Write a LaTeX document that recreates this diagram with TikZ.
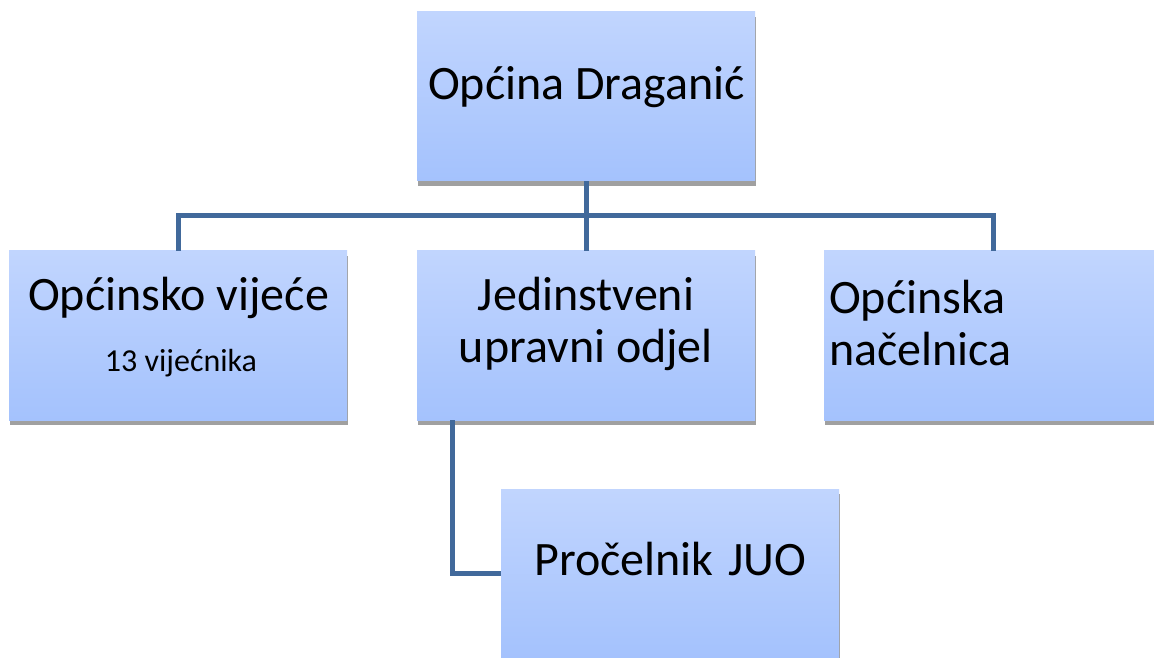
\documentclass[tikz,border=0pt]{standalone}
\usepackage{fontspec}
\setmainfont{Carlito}
\usetikzlibrary{shadows}
\definecolor{boxtop}{HTML}{C1D5FE}
\definecolor{boxbot}{HTML}{A4C2FD}
\definecolor{linecol}{HTML}{41699B}
\definecolor{shadowgray}{HTML}{A0A0A0}
\tikzset{
  orgbox/.style={rectangle, minimum width=338pt, minimum height=169pt, inner sep=0pt,
    top color=boxtop, bottom color=boxbot, draw=none,
    general shadow={fill=shadowgray, shadow xshift=1pt, shadow yshift=-5pt}},
  conn/.style={draw=linecol, line width=5pt},
  bigtext/.style={inner sep=0pt, font=\fontsize{48}{54}\selectfont},
  smalltext/.style={inner sep=0pt, font=\fontsize{32}{38}\selectfont},
}
\begin{document}
\begin{tikzpicture}[x=1pt,y=1pt]
\useasboundingbox (0,0) rectangle (1154,657);
\clip (0,0) rectangle (1154,657);
\fill[white] (0,0) rectangle (1154,657);
% boxes
\node[orgbox] (top) at (586,560.5) {};
\node[orgbox] (left) at (178,321.5) {};
\node[orgbox] (mid) at (586,321.5) {};
\node[orgbox] (right) at (993,321.5) {};
\node[orgbox] (bot) at (670,83.5) {};
% connectors
\coordinate (bus) at (586,441);
\draw[conn] (top.south) -- (mid.north);
\draw[conn] (left.north) |- (bus) -| (right.north);
\coordinate (midtap) at (452,237);
\draw[conn] (midtap) |- (bot.west);
% texts
\node[bigtext, anchor=base] (t1) at (586.5,557) {Općina Draganić};
\node[bigtext, anchor=base] (t2) at (178.5,346.3) {Općinsko vijeće};
\node[smalltext, anchor=base] (t3) at (181,286) {13 vijećnika};
\node[bigtext, anchor=base] (t4) at (586,346.3) {Jedinstveni};
\node[bigtext, anchor=base] (t5) at (586,294.3) {upravni odjel};
\node[bigtext, anchor=base west] (t6) at (829,344) {Općinska};
\node[bigtext, anchor=base west] (t7) at (829,292) {načelnica};
\node[bigtext, anchor=base] (t8) at (670.5,82) {Pročelnik\hspace{4pt} JUO};
\end{tikzpicture}
\end{document}
